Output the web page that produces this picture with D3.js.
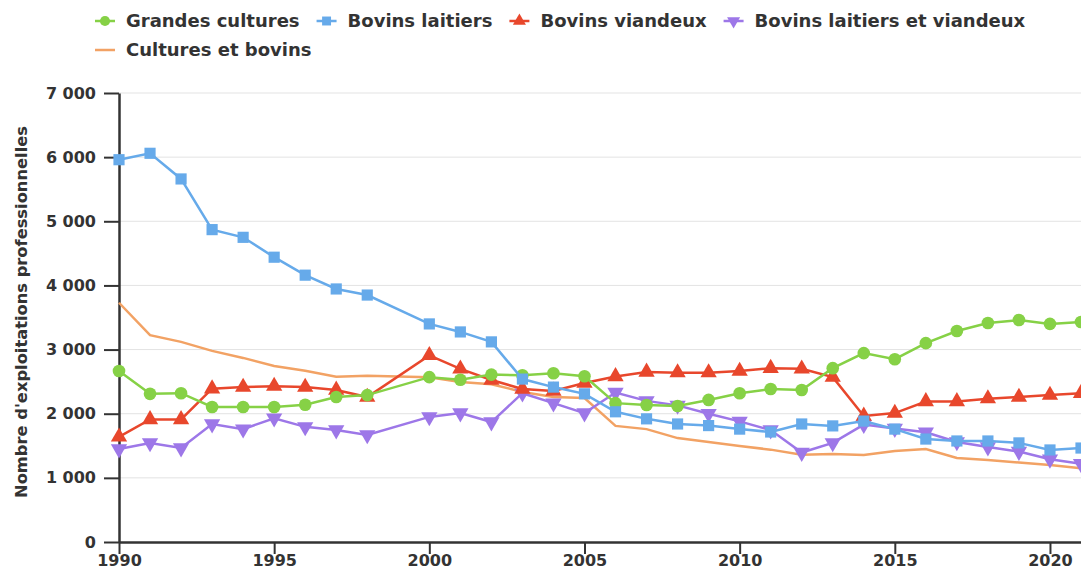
<!DOCTYPE html>
<html lang="fr">
<head>
  <meta charset="UTF-8">
  <title>exploitations professionnelles</title>
  <style>
    body { margin: 0; background: #fff; }
    text { font-family: "DejaVu Sans", sans-serif; font-weight: bold; fill: #333; }
  </style>
</head>
<body>
  <script src="https://cdn.jsdelivr.net/npm/d3@7"></script>
  <script>
    // années (pas de point en 1999)
    var years = [1990, 1991, 1992, 1993, 1994, 1995, 1996, 1997, 1998,
                 2000, 2001, 2002, 2003, 2004, 2005, 2006, 2007, 2008, 2009, 2010,
                 2011, 2012, 2013, 2014, 2015, 2016, 2017, 2018, 2019, 2020, 2021];

    var grandesCultures = [2665, 2310, 2320, 2105, 2105, 2105, 2140, 2260, 2290,
                           2570, 2530, 2610, 2600, 2630, 2585, 2165, 2135, 2120, 2215, 2320,
                           2385, 2370, 2710, 2945, 2850, 3100, 3290, 3415, 3460, 3400, 3430];
    var bovinsLaitiers = [5960, 6060, 5660, 4870, 4750, 4440, 4160, 3945, 3850,
                          3400, 3275, 3120, 2540, 2415, 2310, 2030, 1920, 1840, 1815, 1760,
                          1715, 1840, 1810, 1885, 1760, 1605, 1575, 1575, 1545, 1435, 1465];
    var bovinsViandeux = [1640, 1910, 1910, 2390, 2415, 2430, 2415, 2370, 2260,
                          2910, 2700, 2525, 2385, 2355, 2480, 2580, 2650, 2640, 2640, 2665,
                          2710, 2700, 2570, 1965, 2010, 2190, 2190, 2235, 2260, 2290, 2320];
    var bovinsMixtes = [1450, 1545, 1465, 1840, 1760, 1930, 1795, 1745, 1670,
                        1950, 2010, 1870, 2320, 2165, 2010, 2330, 2200, 2130, 2000, 1880,
                        1745, 1395, 1545, 1830, 1770, 1710, 1560, 1480, 1410, 1290, 1220];
    var culturesBovins = [3730, 3225, 3120, 2980, 2870, 2745, 2670, 2575, 2590,
                          2570, 2495, 2460, 2340, 2260, 2245, 1810, 1760, 1620, 1560, 1495,
                          1440, 1360, 1370, 1355, 1420, 1450, 1310, 1280, 1240, 1200, 1150];

    var yTicks = [0, 1000, 2000, 3000, 4000, 5000, 6000, 7000];
    var xTicks = [1990, 1995, 2000, 2005, 2010, 2015, 2020];

    var series = [
      {name: "Grandes cultures", values: grandesCultures, color: "#86d146", shape: "circle"},
      {name: "Bovins laitiers", values: bovinsLaitiers, color: "#66aaea", shape: "square"},
      {name: "Bovins viandeux", values: bovinsViandeux, color: "#e8472c", shape: "up"},
      {name: "Bovins laitiers et viandeux", values: bovinsMixtes, color: "#9d77e8", shape: "down"},
      {name: "Cultures et bovins", values: culturesBovins, color: "#f2a264", shape: null}
    ];

    var width = 1081, height = 573;
    var margin = {top: 93, right: 0, bottom: 31, left: 119};

    var svg = d3.select("body").append("svg")
      .attr("width", width)
      .attr("height", height);

    var x = d3.scaleLinear().domain([1990, 2021]).range([margin.left, 1081]);
    var y = d3.scaleLinear().domain([0, 7000]).range([height - margin.bottom, margin.top]);

    // grille
    svg.append("g").selectAll("line")
      .data(yTicks.slice(1))
      .enter().append("line")
      .attr("x1", margin.left).attr("x2", width)
      .attr("y1", function(d){ return y(d); })
      .attr("y2", function(d){ return y(d); })
      .attr("stroke", "#e3e3e3")
      .attr("stroke-width", 1);

    var fmt = function(d){ return d3.format(",")(d).replace(/,/g, " "); };

    var yAxis = svg.append("g")
      .attr("transform", "translate(" + margin.left + ",0)")
      .call(d3.axisLeft(y).tickValues(yTicks).tickFormat(fmt).tickSize(15).tickSizeOuter(0).tickPadding(8));
    var xAxis = svg.append("g")
      .attr("transform", "translate(0," + y(0) + ")")
      .call(d3.axisBottom(x).tickValues(xTicks).tickFormat(d3.format("d")).tickSize(12).tickSizeOuter(0).tickPadding(1));

    [yAxis, xAxis].forEach(function(a){
      a.select(".domain").attr("stroke", "#333").attr("stroke-width", 2.5);
      a.selectAll(".tick line").attr("stroke", "#333").attr("stroke-width", 2);
      a.selectAll("text").attr("font-size", "16px").attr("fill", "#333")
        .attr("font-family", "DejaVu Sans").attr("font-weight", "bold");
    });

    svg.append("text")
      .attr("transform", "translate(27," + 312 + ") rotate(-90)")
      .attr("text-anchor", "middle")
      .attr("font-size", "16.3px")
      .text("Nombre d'exploitations professionnelles");

    var symbolFor = function(shape) {
      if (shape === "circle") return d3.symbol().type(d3.symbolCircle).size(125)();
      if (shape === "square") return d3.symbol().type(d3.symbolSquare).size(125)();
      if (shape === "up") return d3.symbol().type(d3.symbolTriangle).size(115)();
      if (shape === "down") return d3.symbol().type(d3.symbolTriangle).size(115)();
      return null;
    };

    var line = d3.line()
      .x(function(d){ return x(d.year); })
      .y(function(d){ return y(d.value); });

    var plot = svg.append("g");
    // orange en dessous
    var order = [4, 3, 2, 0, 1];
    order.forEach(function(k){
      var s = series[k];
      var pts = years.map(function(yr, i){ return {year: yr, value: s.values[i]}; });
      plot.append("path")
        .datum(pts)
        .attr("fill", "none")
        .attr("stroke", s.color)
        .attr("stroke-width", 2.5)
        .attr("d", line);
      if (s.shape) {
        plot.selectAll(".m" + k)
          .data(pts)
          .enter().append("path")
          .attr("class", "m" + k)
          .attr("fill", s.color)
          .attr("transform", function(d){
            return "translate(" + x(d.year) + "," + y(d.value) + ")" + (s.shape === "down" ? " rotate(180)" : "");
          })
          .attr("d", symbolFor(s.shape));
      }
    });

    // légende, deux lignes
    var legend = svg.append("g");
    var lx = 105, ly = 21;
    series.forEach(function(s, i){
      if (i === 4) { lx = 105; ly = 50; }
      var g = legend.append("g").attr("transform", "translate(" + lx + "," + ly + ")");
      g.append("line").attr("x1", -10).attr("x2", 10).attr("stroke", s.color).attr("stroke-width", 2.5);
      if (s.shape) {
        g.append("path")
          .attr("fill", s.color)
          .attr("transform", s.shape === "down" ? "rotate(180) scale(0.8)" : "scale(0.8)")
          .attr("d", symbolFor(s.shape));
      }
      var t = g.append("text")
        .attr("x", 21)
        .attr("dy", "0.35em")
        .attr("font-size", "18px")
        .text(s.name);
      lx += 21 + t.node().getComputedTextLength() + 27;
    });
  </script>
</body>
</html>
